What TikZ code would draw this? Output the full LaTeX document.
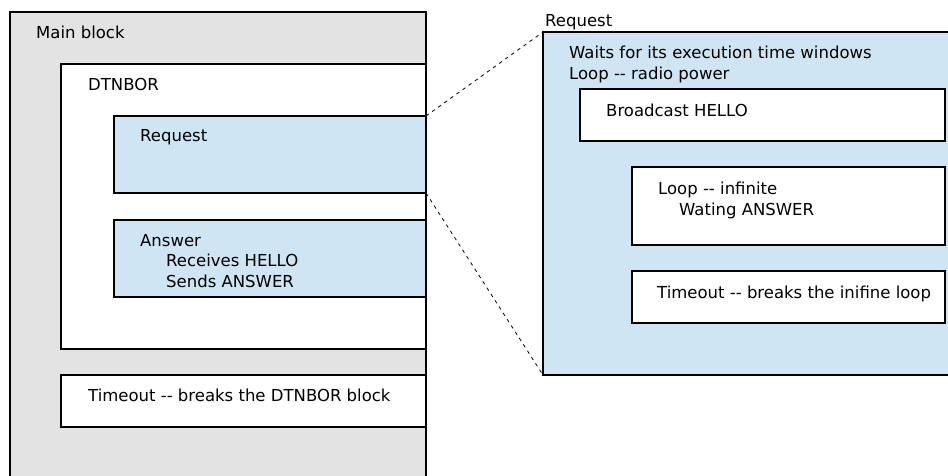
\documentclass[tikz,border=0pt]{standalone}
\usepackage{fontspec}
\setmainfont{DejaVu Sans}
\usepackage{xcolor}
\usepackage{tikz}
\definecolor{blockgray}{HTML}{E3E3E3}
\definecolor{taskblue}{HTML}{D0E5F3}
\tikzset{
  blk/.style={draw=black, line width=1.9pt, anchor=north west, inner sep=0pt, outer sep=0pt},
  grayblk/.style={blk, fill=blockgray},
  blueblk/.style={blk, fill=taskblue},
  whiteblk/.style={blk, fill=white},
  lab/.style={anchor=base west, inner sep=0pt, font=\fontsize{16.5}{20.6}\selectfont},
  zoomline/.style={draw=black, line width=0.8pt, dash pattern=on 3.5pt off 4pt},
}

\begin{document}
\begin{tikzpicture}[x=1pt, y=-1pt]
  \useasboundingbox (0,0) rectangle (948,475);

  % left side: the whole program
  \node[grayblk, minimum width=416pt, minimum height=480pt] (main) at (10,12) {};
  \node[lab] (mainlab) at (36,38) {Main block};

  \node[whiteblk, minimum width=365pt, minimum height=285pt] (dtnbor) at (61,64) {};
  \node[lab] (dtnborlab) at (88,90.5) {DTNBOR};

  \node[blueblk, minimum width=312pt, minimum height=77pt] (req) at (114,116) {};
  \node[lab] (reqlab) at (140,141.5) {Request};

  \node[blueblk, minimum width=312pt, minimum height=77pt] (ans) at (114,220) {};
  \node[lab] (anslab) at (140,246) {Answer};
  \node[lab] (anslabb) at (166,266.6) {Receives HELLO};
  \node[lab] (anslabc) at (166,287.2) {Sends ANSWER};

  \node[whiteblk, minimum width=365pt, minimum height=52pt] (tmo) at (61,375) {};
  \node[lab] (tmolab) at (88,401.5) {Timeout -{}- breaks the DTNBOR block};

  % right side: the Request block in detail
  \node[lab] (reqbiglab) at (545,26) {Request};
  \node[blueblk, minimum width=420pt, minimum height=343pt] (reqbig) at (543,32) {};
  \node[lab] (waitlab) at (569,58.3) {Waits for its execution time windows};
  \node[lab] (looplab) at (569,79.3) {Loop -{}- radio power};

  \node[whiteblk, minimum width=365pt, minimum height=52pt] (hello) at (580,89) {};
  \node[lab] (hellolab) at (606,116) {Broadcast HELLO};

  \node[whiteblk, minimum width=313pt, minimum height=78pt] (loopinf) at (632,167) {};
  \node[lab] (loopinflab) at (658,194) {Loop -{}- infinite};
  \node[lab] (waitanslab) at (679,215) {Wating ANSWER};

  \node[whiteblk, minimum width=313pt, minimum height=52pt] (tmoinf) at (632,271) {};
  \node[lab] (tmoinflab) at (657,298.3) {Timeout -{}- breaks the inifine loop};

  % zoom lines
  \draw[zoomline] (req.north east) -- (reqbig.north west);
  \draw[zoomline] (req.south east) -- (reqbig.south west);

\end{tikzpicture}
\end{document}
